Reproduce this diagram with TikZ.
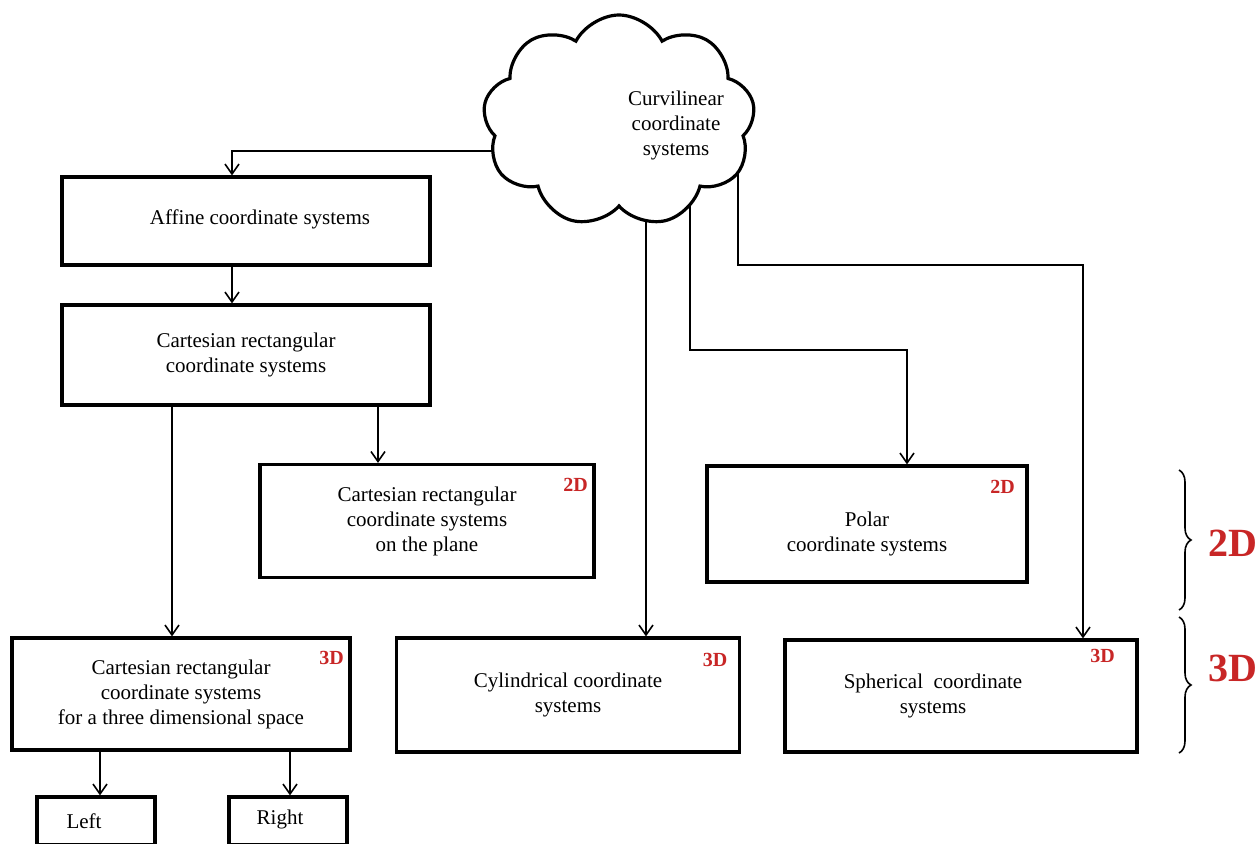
\documentclass[tikz,border=0pt]{standalone}
\usepackage{fontspec}
\setmainfont{Liberation Serif}
\usetikzlibrary{shapes.symbols,arrows.meta,decorations.pathreplacing,backgrounds}
\definecolor{tagred}{RGB}{200,38,38}
\begin{document}
\begin{tikzpicture}[x=0.5pt,y=-0.5pt,
  boxtext/.style={align=center,font=\fontsize{10.5}{12.5}\selectfont},
  sysbox/.style={draw,line width=1.6pt,fill=white,boxtext,inner sep=2pt},
  conn/.style={line width=0.8pt,-{Straight Barb[length=5pt,width=7pt]}},
  dimtag/.style={text=tagred,font=\bfseries\fontsize{10}{12}\selectfont,inner sep=0pt},
  dimbig/.style={text=tagred,font=\bfseries\fontsize{20}{24}\selectfont,inner sep=0pt,anchor=west},
  dimbrace/.style={decorate,decoration={brace,amplitude=6pt},line width=0.8pt}]

\useasboundingbox (0,0) rectangle (1259,843); %% page size

%% the cloud
\node[cloud,draw,line width=1.6pt,fill=white,cloud puffs=9,cloud puff arc=125,
  aspect=1.3,minimum width=136pt,minimum height=106pt] (cloud) at (619,121) {};
\node[boxtext] (cloudtxt) at (676,125) {Curvilinear\\coordinate\\systems};

%% boxes
\node[sysbox,minimum width=184pt,minimum height=44pt,
  label={[boxtext,xshift=7pt,yshift=1pt]center:Affine coordinate systems}]
  (affine) at (246,221) {};
\node[sysbox,minimum width=184pt,minimum height=50pt] (cart) at (246,355)
  {Cartesian rectangular\\coordinate systems};
\node[sysbox,minimum width=167pt,minimum height=56.5pt] (plane) at (427,521)
  {Cartesian rectangular\\coordinate systems\\on the plane};
\node[sysbox,minimum width=160pt,minimum height=58pt,
  label={[boxtext,yshift=-5pt]center:Polar\\coordinate systems}]
  (polar) at (867,524) {};
\node[sysbox,minimum width=169pt,minimum height=56pt] (space) at (181,694)
  {Cartesian rectangular\\coordinate systems\\for a three dimensional space};
\node[sysbox,minimum width=171.5pt,minimum height=57pt] (cyl) at (568,695)
  {Cylindrical coordinate\\systems};
\node[sysbox,minimum width=176pt,minimum height=56pt,
  label={[boxtext,xshift=-14pt]center:Spherical\ \ coordinate\\systems}]
  (sph) at (961,696) {};
\node[sysbox,minimum width=59pt,minimum height=24pt,
  label={[boxtext,xshift=-6pt]center:Left}] (left) at (96,821) {};
\node[sysbox,minimum width=59pt,minimum height=24pt,
  label={[boxtext,xshift=-4pt,yshift=1pt]center:Right}] (right) at (288,821) {};

%% red tags
\node[dimtag] (tplane) at ([xshift=-10pt,yshift=-11pt]plane.north east) {2D};
\node[dimtag] (tpolar) at ([xshift=-13pt,yshift=-11pt]polar.north east) {2D};
\node[dimtag] (tspace) at ([xshift=-10pt,yshift=-11pt]space.north east) {3D};
\node[dimtag] (tcyl) at ([xshift=-13pt,yshift=-12pt]cyl.north east) {3D};
\node[dimtag] (tsph) at ([xshift=-18pt,yshift=-9pt]sph.north east) {3D};

%% connectors
\coordinate (c1) at ([xshift=66pt]cart.south);
\coordinate (c2) at ([xshift=-37pt]cart.south);
\coordinate (c3) at ([xshift=-40.5pt]space.south);
\coordinate (c4) at ([xshift=54.5pt]space.south);
\coordinate (c6) at ([xshift=13.5pt]cloud.center);
\coordinate (c7) at ([xshift=35.5pt]cloud.center);
\coordinate (c8) at ([xshift=59.5pt]cloud.center);
\coordinate (kp) at (907,350);
\coordinate (ks) at (1083,265);
\begin{pgfonlayer}{background}
\draw[conn] ([yshift=-15pt]cloud.center) -| ([xshift=-7pt]affine.north);
\draw[conn] (c6) -- (c6 |- cyl.north);
\draw[conn] (c7) |- (kp) -- (kp |- polar.north);
\draw[conn] (c8) |- (ks) -- (ks |- sph.north);
\end{pgfonlayer}
\draw[conn] ([xshift=-7pt]affine.south) -- ([xshift=-7pt]cart.north);
\draw[conn] (c1) -- (c1 |- plane.north);
\draw[conn] (c2) -- (c2 |- space.north);
\draw[conn] (c3) -- (c3 |- left.north);
\draw[conn] (c4) -- (c4 |- right.north);

%% braces at the right
\coordinate (br2top) at (1179,470);
\coordinate (br2bot) at (1179,610);
\coordinate (br3top) at (1179,617);
\coordinate (br3bot) at (1179,753);
\draw[dimbrace] (br2top) -- (br2bot);
\draw[dimbrace] (br3top) -- (br3bot);
\node[dimbig] (big2d) at (1208,543) {2D};
\node[dimbig] (big3d) at (1208,668) {3D};

\end{tikzpicture}
\end{document}
